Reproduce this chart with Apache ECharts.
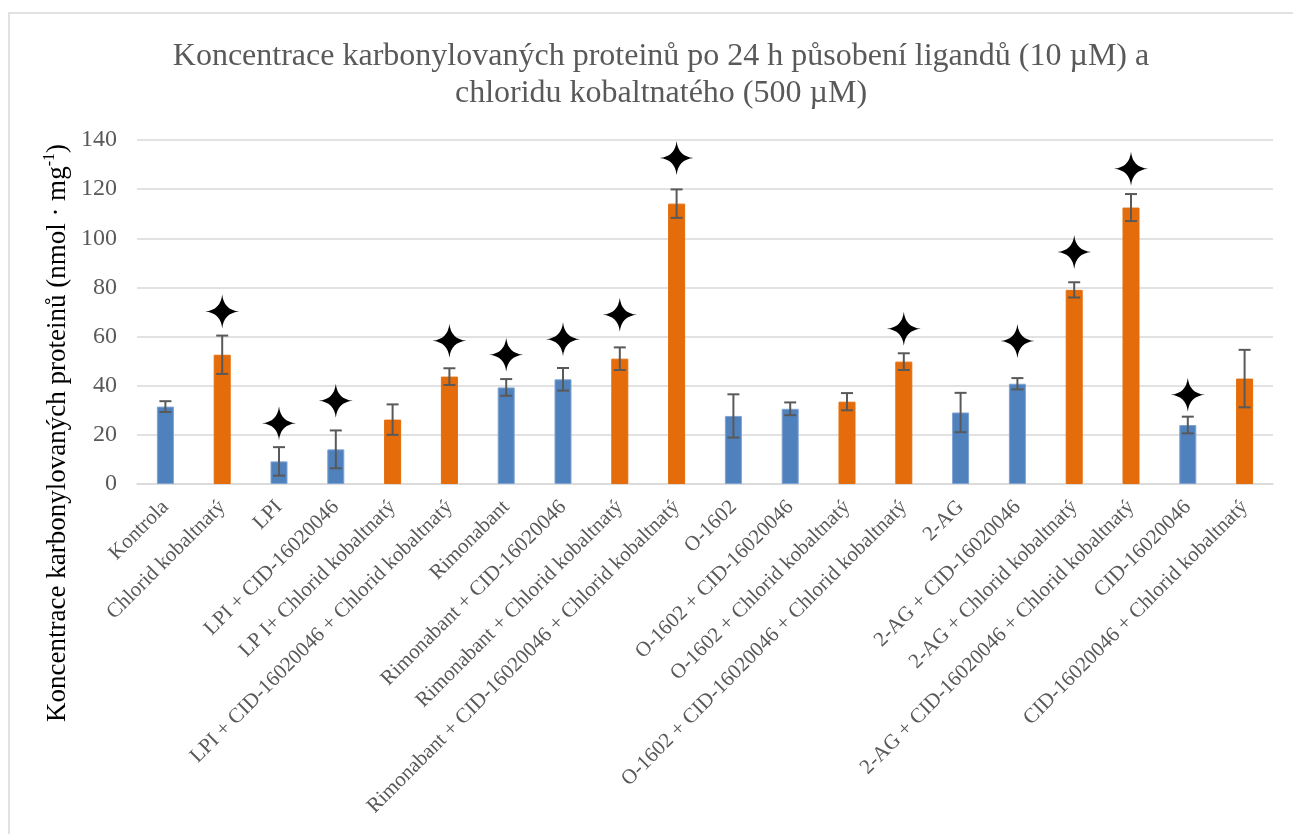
<!DOCTYPE html>
<html>
<head>
<meta charset="utf-8">
<script src="https://cdn.jsdelivr.net/npm/echarts@6/dist/echarts.min.js"></script>
<style>
  html, body { margin: 0; padding: 0; background: #fff; }
  #chart { width: 1293px; height: 834px; }
</style>
</head>
<body>
<div id="chart"></div>
<script>
// Treatment groups
const categories = [
  'Kontrola',
  'Chlorid kobaltnatý',
  'LPI',
  'LPI + CID-16020046',
  'LP I+ Chlorid kobaltnatý',
  'LPI + CID-16020046 + Chlorid kobaltnatý',
  'Rimonabant',
  'Rimonabant + CID-16020046',
  'Rimonabant + Chlorid kobaltnatý',
  'Rimonabant + CID-16020046 + Chlorid kobaltnatý',
  'O-1602',
  'O-1602 + CID-16020046',
  'O-1602 + Chlorid kobaltnatý',
  'O-1602 + CID-16020046 + Chlorid kobaltnatý',
  '2-AG',
  '2-AG + CID-16020046',
  '2-AG + Chlorid kobaltnatý',
  '2-AG + CID-16020046 + Chlorid kobaltnatý',
  'CID-16020046',
  'CID-16020046 + Chlorid kobaltnatý'
];

// Mean carbonylated protein concentration (nmol · mg-1)
const means = [31.5, 52.6, 9.2, 14.1, 26.2, 43.7, 39.3, 42.6, 51.0, 114.1,
               27.7, 30.6, 33.5, 49.8, 29.1, 40.8, 79.0, 112.5, 24.0, 42.9];

// Error bar half-widths
const errors = [2.2, 7.8, 5.8, 7.7, 6.2, 3.4, 3.4, 4.6, 4.6, 5.8,
                8.8, 2.6, 3.5, 3.4, 8.0, 2.3, 3.1, 5.5, 3.4, 11.7];

// Cobalt(II) chloride present (1) or not (0)
const withCobalt = [0, 1, 0, 0, 1, 1, 0, 0, 1, 1,
                    0, 0, 1, 1, 0, 0, 1, 1, 0, 1];

// Significance marker heights (null = not significant)
const starLevels = [null, 70.2, 24.7, 33.9, null, 58.3, 52.6, 58.9, 68.9, 132.7,
                    null, null, null, 63.2, null, 58.2, 94.4, 128.3, 36.3, null];

const yTicks = { min: 0, max: 140, interval: 20 };

const BLUE = '#4F81BD';
const ORANGE = '#E46C0A';
const GREY_TEXT = '#595959';
const FONT = '"Liberation Serif", "Times New Roman", serif';

const barData = means.map((v, i) => ({
  value: v,
  itemStyle: {
    color: withCobalt[i] ? ORANGE : BLUE,
    borderColor: withCobalt[i] ? ORANGE : '#7FA3D3',
    borderWidth: 1
  }
}));

const errData = means.map((v, i) => [i, v - errors[i], v + errors[i]]);
const starData = starLevels.map((v, i) => (v == null ? null : [i, v])).filter(d => d);

const starPath = 'path://M0,-10 Q0.9,-0.9 10,0 Q0.9,0.9 0,10 Q-0.9,0.9 -10,0 Q-0.9,-0.9 0,-10 Z';

const chart = echarts.init(document.getElementById('chart'), null, { renderer: 'canvas' });

chart.setOption({
  backgroundColor: '#ffffff',
  animation: false,
  title: {
    text: 'Koncentrace karbonylovaných proteinů po 24 h působení ligandů (10 µM) a\nchloridu kobaltnatého (500 µM)',
    left: 656,
    top: 33,
    textAlign: 'center',
    textStyle: {
      fontFamily: FONT,
      fontSize: 32,
      fontWeight: 'normal',
      color: GREY_TEXT,
      lineHeight: 37
    }
  },
  graphic: [
    {
      type: 'rect',
      shape: { x: 9, y: 13, width: 1400, height: 900 },
      style: { fill: 'none', stroke: '#d9d9d9', lineWidth: 1.5 },
      silent: true,
      z: -10
    },
    {
      type: 'text',
      x: 58,
      y: 433,
      rotation: Math.PI / 2,
      style: {
        text: '{m|Koncentrace karbonylovaných proteinů (nmol · mg}{s|-1}{m|)}',
        align: 'center',
        verticalAlign: 'middle',
        rich: {
          m: { fontFamily: FONT, fontSize: 27, color: '#404040', lineHeight: 32 },
          s: { fontFamily: FONT, fontSize: 16, color: '#404040', lineHeight: 32, verticalAlign: 'top', padding: [0, 0, 8, 0] }
        }
      }
    }
  ],
  grid: { left: 137, right: 20, top: 140, bottom: 350, containLabel: false },
  xAxis: {
    type: 'category',
    data: categories,
    axisLine: { show: true, lineStyle: { color: '#d9d9d9', width: 1.5 } },
    axisTick: { show: false },
    axisLabel: {
      interval: 0,
      rotate: 45,
      margin: 20,
      fontFamily: FONT,
      fontSize: 21,
      color: GREY_TEXT
    }
  },
  yAxis: {
    type: 'value',
    min: yTicks.min,
    max: yTicks.max,
    interval: yTicks.interval,
    axisLine: { show: false },
    axisTick: { show: false },
    splitLine: { lineStyle: { color: '#d9d9d9', width: 1.5 } },
    axisLabel: {
      margin: 20,
      fontFamily: FONT,
      fontSize: 24,
      color: GREY_TEXT
    }
  },
  series: [
    {
      type: 'bar',
      data: barData,
      barWidth: 17,
      z: 2
    },
    {
      type: 'custom',
      data: errData,
      z: 3,
      renderItem: function (params, api) {
        const x = api.coord([api.value(0), 0])[0];
        const lo = api.coord([api.value(0), api.value(1)])[1];
        const hi = api.coord([api.value(0), api.value(2)])[1];
        const cap = 6;
        const style = { stroke: '#595959', lineWidth: 2 };
        return {
          type: 'group',
          children: [
            { type: 'line', shape: { x1: x, y1: lo, x2: x, y2: hi }, style: style },
            { type: 'line', shape: { x1: x - cap, y1: hi, x2: x + cap, y2: hi }, style: style },
            { type: 'line', shape: { x1: x - cap, y1: lo, x2: x + cap, y2: lo }, style: style }
          ]
        };
      }
    },
    {
      type: 'scatter',
      data: starData,
      symbol: starPath,
      symbolSize: [34, 34],
      itemStyle: { color: '#000000', opacity: 1 },
      z: 4
    }
  ]
});
</script>
</body>
</html>
